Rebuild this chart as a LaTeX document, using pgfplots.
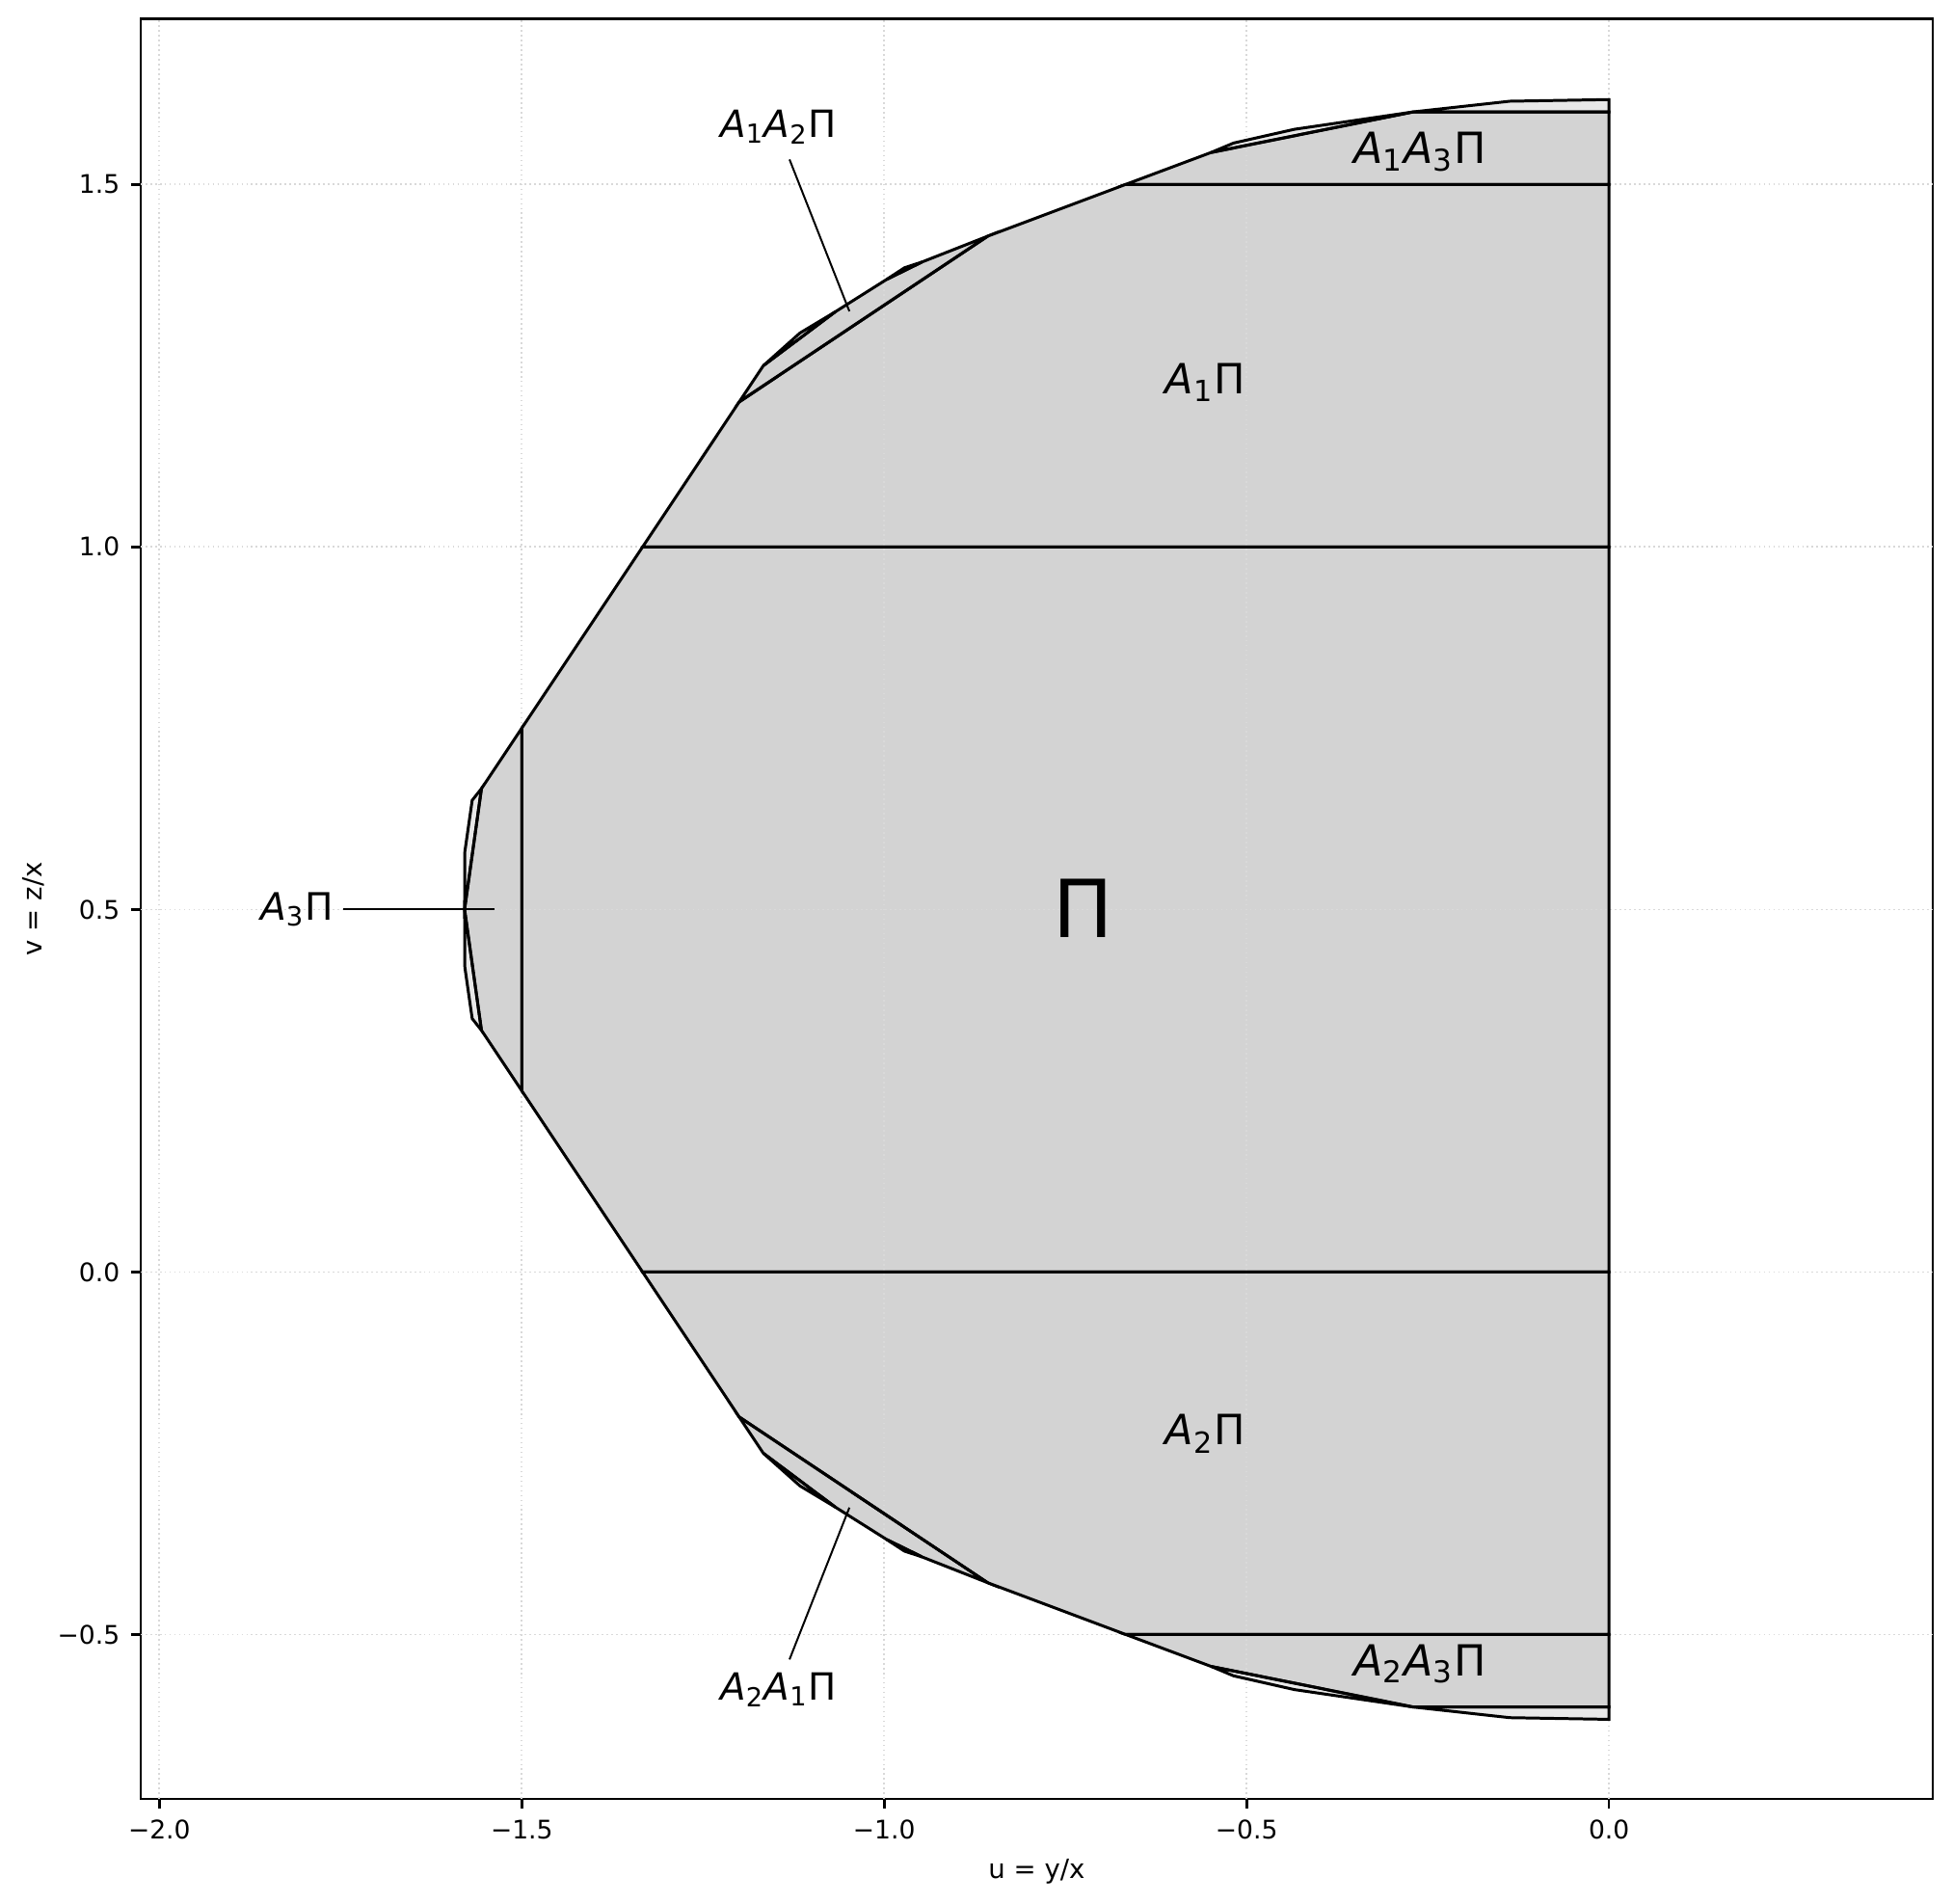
\documentclass[border=0pt]{standalone}
\usepackage{fontspec}
\setmainfont{DejaVu Sans}
\usepackage{pgfplots}
\pgfplotsset{compat=1.18}
\definecolor{regfill}{HTML}{D3D3D3}
\definecolor{slvfill}{HTML}{E8E8E8}
\newcommand{\Ai}[1]{{\itshape A}\textsubscript{#1}}
\pgfplotsset{
  fillonly/.style={fill=#1, draw=none},
  edge/.style={draw=black, line width=0.9pt, fill=none},
  gridl/.style={densely dotted, color=black!15, line width=0.5pt},
}

\begin{document}
\begin{tikzpicture}
\path[use as bounding box] (-0.608in,-0.45in) rectangle (7.8335in,7.775in);
\begin{axis}[
  scale only axis, width=7.746in, height=7.694in,
  xmin=-2.0258, xmax=0.4467, ymin=-0.7268, ymax=1.7285,
  xtick={-2,-1.5,-1,-0.5,0}, xticklabels={−2.0,−1.5,−1.0,−0.5,0.0},
  ytick={-0.5,0,0.5,1,1.5}, yticklabels={−0.5,0.0,0.5,1.0,1.5},
  tick pos=left, tick align=outside, major tick length=3pt,
  tick style={black, line width=0.8pt},
  axis line style={line width=0.8pt},
  clip=false,
  ticklabel style={font=\fontsize{8}{9}\selectfont},
  label style={font=\fontsize{8.3}{10}\selectfont},
  xlabel={u = y/x}, ylabel={v = z/x},
  xlabel style={at={(axis description cs:0.5,-0.0406)}, anchor=center},
  ylabel style={at={(axis description cs:-0.0597,0.5)}, anchor=center},
]
% fills
\addplot[fillonly=regfill] coordinates {(0,0) (-1.3333,0) (-1.5,0.25) (-1.5,0.75) (-1.3333,1) (0,1)} -- cycle;
\addplot[fillonly=regfill] coordinates {(0,1) (-1.3333,1) (-1.2,1.2) (-0.8571,1.4286) (-0.6667,1.5) (0,1.5)} -- cycle;
\addplot[fillonly=regfill] coordinates {(0,0) (-1.3333,0) (-1.2,-0.2) (-0.8571,-0.4286) (-0.6667,-0.5) (0,-0.5)} -- cycle;
\addplot[fillonly=regfill] coordinates {(-1.5,0.25) (-1.5,0.75) (-1.5556,0.6667) (-1.5789,0.5) (-1.5556,0.3333)} -- cycle;
\addplot[fillonly=regfill] coordinates {(-1.2,1.2) (-1.1667,1.25) (-1.0674,1.3243) (-0.9965,1.369) (-0.9477,1.393) (-0.8571,1.4286)} -- cycle;
\addplot[fillonly=regfill] coordinates {(-1.2,-0.2) (-1.1667,-0.25) (-1.0674,-0.3243) (-0.9965,-0.369) (-0.9477,-0.393) (-0.8571,-0.4286)} -- cycle;
\addplot[fillonly=regfill] coordinates {(-0.6667,1.5) (-0.549,1.544) (-0.27,1.6) (0,1.6) (0,1.5)} -- cycle;
\addplot[fillonly=regfill] coordinates {(-0.6667,-0.5) (-0.549,-0.544) (-0.27,-0.6) (0,-0.6) (0,-0.5)} -- cycle;
\addplot[fillonly=slvfill] coordinates {(-1.1667,1.25) (-1.1162,1.295) (-1.0674,1.3243)} -- cycle;
\addplot[fillonly=slvfill] coordinates {(-1.1667,-0.25) (-1.1162,-0.295) (-1.0674,-0.3243)} -- cycle;
\addplot[fillonly=slvfill] coordinates {(-0.549,1.544) (-0.518,1.557) (-0.434,1.576) (-0.27,1.6)} -- cycle;
\addplot[fillonly=slvfill] coordinates {(-0.549,-0.544) (-0.518,-0.557) (-0.434,-0.576) (-0.27,-0.6)} -- cycle;
\addplot[fillonly=slvfill] coordinates {(-0.27,1.6) (-0.137,1.6147) (0,1.617) (0,1.6)} -- cycle;
\addplot[fillonly=slvfill] coordinates {(-0.27,-0.6) (-0.137,-0.6147) (0,-0.617) (0,-0.6)} -- cycle;
\addplot[fillonly=slvfill] coordinates {(-1.5556,0.6667) (-1.5684,0.6505) (-1.5785,0.58) (-1.5789,0.5)} -- cycle;
\addplot[fillonly=slvfill] coordinates {(-1.5556,0.3333) (-1.5684,0.3495) (-1.5785,0.42) (-1.5789,0.5)} -- cycle;
% grid, above the fills and below the outlines
\addplot[gridl] coordinates {(-2,-0.7268) (-2,1.7285)};
\addplot[gridl] coordinates {(-1.5,-0.7268) (-1.5,1.7285)};
\addplot[gridl] coordinates {(-1,-0.7268) (-1,1.7285)};
\addplot[gridl] coordinates {(-0.5,-0.7268) (-0.5,1.7285)};
\addplot[gridl] coordinates {(0,-0.7268) (0,1.7285)};
\addplot[gridl] coordinates {(-2.0258,-0.5) (0.4467,-0.5)};
\addplot[gridl] coordinates {(-2.0258,0) (0.4467,0)};
\addplot[gridl] coordinates {(-2.0258,0.5) (0.4467,0.5)};
\addplot[gridl] coordinates {(-2.0258,1) (0.4467,1)};
\addplot[gridl] coordinates {(-2.0258,1.5) (0.4467,1.5)};
% outlines
\addplot[edge] coordinates {(0,0) (-1.3333,0) (-1.5,0.25) (-1.5,0.75) (-1.3333,1) (0,1)} -- cycle;
\addplot[edge] coordinates {(0,1) (-1.3333,1) (-1.2,1.2) (-0.8571,1.4286) (-0.6667,1.5) (0,1.5)} -- cycle;
\addplot[edge] coordinates {(0,0) (-1.3333,0) (-1.2,-0.2) (-0.8571,-0.4286) (-0.6667,-0.5) (0,-0.5)} -- cycle;
\addplot[edge] coordinates {(-1.5,0.25) (-1.5,0.75) (-1.5556,0.6667) (-1.5789,0.5) (-1.5556,0.3333)} -- cycle;
\addplot[edge] coordinates {(-1.2,1.2) (-1.1667,1.25) (-1.0674,1.3243) (-0.9965,1.369) (-0.9477,1.393) (-0.8571,1.4286)} -- cycle;
\addplot[edge] coordinates {(-1.2,-0.2) (-1.1667,-0.25) (-1.0674,-0.3243) (-0.9965,-0.369) (-0.9477,-0.393) (-0.8571,-0.4286)} -- cycle;
\addplot[edge] coordinates {(-0.6667,1.5) (-0.549,1.544) (-0.27,1.6) (0,1.6) (0,1.5)} -- cycle;
\addplot[edge] coordinates {(-0.6667,-0.5) (-0.549,-0.544) (-0.27,-0.6) (0,-0.6) (0,-0.5)} -- cycle;
\addplot[edge] coordinates {(-1.1667,1.25) (-1.1162,1.295) (-1.0674,1.3243)} -- cycle;
\addplot[edge] coordinates {(-1.1667,-0.25) (-1.1162,-0.295) (-1.0674,-0.3243)} -- cycle;
\addplot[edge] coordinates {(-0.9965,1.369) (-0.972,1.385) (-0.9477,1.393)} -- cycle;
\addplot[edge] coordinates {(-0.9965,-0.369) (-0.972,-0.385) (-0.9477,-0.393)} -- cycle;
\addplot[edge] coordinates {(-0.549,1.544) (-0.518,1.557) (-0.434,1.576) (-0.27,1.6)} -- cycle;
\addplot[edge] coordinates {(-0.549,-0.544) (-0.518,-0.557) (-0.434,-0.576) (-0.27,-0.6)} -- cycle;
\addplot[edge] coordinates {(-0.27,1.6) (-0.137,1.6147) (0,1.617) (0,1.6)} -- cycle;
\addplot[edge] coordinates {(-0.27,-0.6) (-0.137,-0.6147) (0,-0.617) (0,-0.6)} -- cycle;
\addplot[edge] coordinates {(-1.5556,0.6667) (-1.5684,0.6505) (-1.5785,0.58) (-1.5789,0.5)} -- cycle;
\addplot[edge] coordinates {(-1.5556,0.3333) (-1.5684,0.3495) (-1.5785,0.42) (-1.5789,0.5)} -- cycle;
% annotations
\draw[line width=0.6pt] (axis cs:-1.1306,1.5344) -- (axis cs:-1.048,1.325);
\draw[line width=0.6pt] (axis cs:-1.1306,-0.5344) -- (axis cs:-1.048,-0.325);
\draw[line width=0.6pt] (axis cs:-1.747,0.5) -- (axis cs:-1.538,0.5);
\node[font=\fontsize{11.7}{14}\selectfont] at (axis cs:-1.146,1.579) {\Ai{1}\Ai{2}Π};
\node[font=\fontsize{13.4}{16}\selectfont] at (axis cs:-0.261,1.545) {\Ai{1}\Ai{3}Π};
\node[font=\fontsize{13}{16}\selectfont] at (axis cs:-0.557,1.227) {\Ai{1}Π};
\node[font=\fontsize{25}{30}\selectfont] at (axis cs:-0.725,0.502) {Π};
\node[font=\fontsize{13}{16}\selectfont] at (axis cs:-0.557,-0.223) {\Ai{2}Π};
\node[font=\fontsize{13.4}{16}\selectfont] at (axis cs:-0.261,-0.541) {\Ai{2}\Ai{3}Π};
\node[font=\fontsize{11.7}{14}\selectfont] at (axis cs:-1.146,-0.576) {\Ai{2}\Ai{1}Π};
\node[font=\fontsize{11.8}{14}\selectfont, anchor=east, inner sep=1pt] at (axis cs:-1.755,0.5) {\Ai{3}Π};
\end{axis}
\end{tikzpicture}
\end{document}
